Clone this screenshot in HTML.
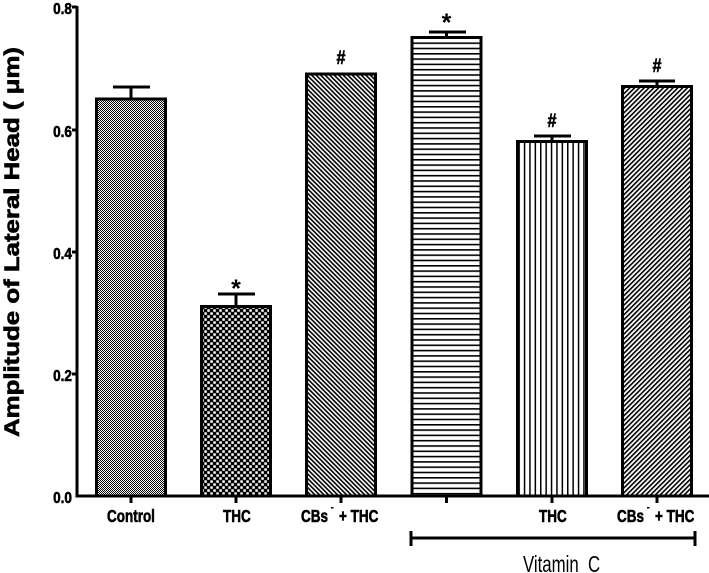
<!DOCTYPE html>
<html><head><meta charset="utf-8"><style>
html,body{margin:0;padding:0;background:#fff;}
svg{display:block;}
text{font-family:"Liberation Sans",Arial,sans-serif;fill:#000;}
.b{stroke:#000;stroke-width:0.6;}
</style></head><body>
<svg width="709" height="573" viewBox="0 0 709 573" xmlns="http://www.w3.org/2000/svg">
<defs>
<pattern id="p1" width="2" height="2" patternUnits="userSpaceOnUse">
<rect width="2" height="2" fill="#fff"/><rect width="1" height="1" fill="#000"/><rect x="1" y="1" width="1" height="1" fill="#000"/>
</pattern>
<pattern id="p2" width="6" height="6" patternUnits="userSpaceOnUse">
<rect width="6" height="6" fill="#000"/><rect x="0.3" y="0.3" width="2.5" height="2.5" fill="#fff"/><rect x="3.3" y="3.3" width="2.5" height="2.5" fill="#fff"/>
</pattern>
<pattern id="p3" width="3.2" height="3.2" patternUnits="userSpaceOnUse" patternTransform="rotate(-45)">
<rect width="3.2" height="3.2" fill="#fff"/><rect width="1.6" height="3.2" fill="#000"/>
</pattern>
<pattern id="p4" width="6" height="5.3" patternUnits="userSpaceOnUse">
<rect width="6" height="5.3" fill="#fff"/><rect y="0" width="6" height="1.6" fill="#000"/>
</pattern>
<pattern id="p5" width="5.4" height="6" patternUnits="userSpaceOnUse">
<rect width="5.4" height="6" fill="#fff"/><rect x="0" width="1.5" height="6" fill="#000"/>
</pattern>
<pattern id="p6" width="3.4" height="3.4" patternUnits="userSpaceOnUse" patternTransform="rotate(45)">
<rect width="3.4" height="3.4" fill="#fff"/><rect width="1.6" height="3.4" fill="#000"/>
</pattern>
</defs>

<!-- y label -->
<text class="b" transform="translate(19,242) rotate(-90) scale(1.23,1)" text-anchor="middle" font-size="21" font-weight="bold">Amplitude of Lateral Head ( μm)</text>

<!-- y tick labels -->
<g class="b" font-size="16" font-weight="bold" text-anchor="end">
<text transform="translate(72,14) scale(0.85,1)">0.8</text>
<text transform="translate(72,137) scale(0.85,1)">0.6</text>
<text transform="translate(72,259) scale(0.85,1)">0.4</text>
<text transform="translate(72,381) scale(0.85,1)">0.2</text>
<text transform="translate(72,503) scale(0.85,1)">0.0</text>
</g>

<!-- bars -->
<g stroke="#000" stroke-width="3">
<rect x="96.5" y="99" width="69" height="397" fill="url(#p1)"/>
<rect x="201.5" y="306.5" width="69" height="189.5" fill="url(#p2)"/>
<rect x="306.5" y="74" width="69" height="422" fill="url(#p3)"/>
<rect x="412" y="37.5" width="69" height="458.5" fill="url(#p4)"/>
<rect x="517.5" y="141.5" width="69" height="354.5" fill="url(#p5)"/>
<rect x="622.5" y="86.5" width="69" height="409.5" fill="url(#p6)"/>
</g>

<!-- error bars -->
<g stroke="#000" stroke-width="3" fill="none">
<path d="M131 98V87M113 87H150"/>
<path d="M236 305V294M218 294H255"/>
<path d="M446.5 36V32M429 32H466"/>
<path d="M552 140V136M534 136H571"/>
<path d="M657 85V81M639 81H675"/>
</g>

<!-- axes -->
<g stroke="#000" stroke-width="3" fill="none">
<path d="M77 6V497.5"/>
<path d="M76 496H709"/>
<path d="M72 7H77M72 130H77M72 252H77M72 374H77"/>
<path d="M131 496V503M236 496V503M341 496V503M446.5 496V503M552 496V503M657 496V503"/>
<path d="M410 538H696M411 531V546M695 531V546"/>
</g>

<!-- significance marks -->
<g font-weight="bold" text-anchor="middle">
<text x="236" y="297" font-size="25">*</text>
<text x="446.5" y="31" font-size="25">*</text>
<text class="b" transform="translate(341,64) scale(0.85,1)" font-size="19">#</text>
<text class="b" transform="translate(552,127) scale(0.85,1)" font-size="19">#</text>
<text class="b" transform="translate(657,72) scale(0.85,1)" font-size="19">#</text>
</g>

<!-- x labels -->
<g class="b" font-size="18" font-weight="bold">
<text transform="translate(107,522) scale(0.75,1)">Control</text>
<text transform="translate(223,522) scale(0.75,1)">THC</text>
<text transform="translate(301,522) scale(0.75,1)">CBs</text>
<rect x="331" y="507" width="2.5" height="1.5" fill="#000" stroke="none"/>
<text transform="translate(339,522) scale(0.75,1)">+ THC</text>
<text transform="translate(539,522) scale(0.75,1)">THC</text>
<text transform="translate(617,522) scale(0.75,1)">CBs</text>
<rect x="647" y="507" width="2.5" height="1.5" fill="#000" stroke="none"/>
<text transform="translate(655,522) scale(0.75,1)">+ THC</text>
</g>
<text transform="translate(523,572) scale(0.73,1)" font-size="23">Vitamin&#160;&#160;C</text>
</svg>
</body></html>
